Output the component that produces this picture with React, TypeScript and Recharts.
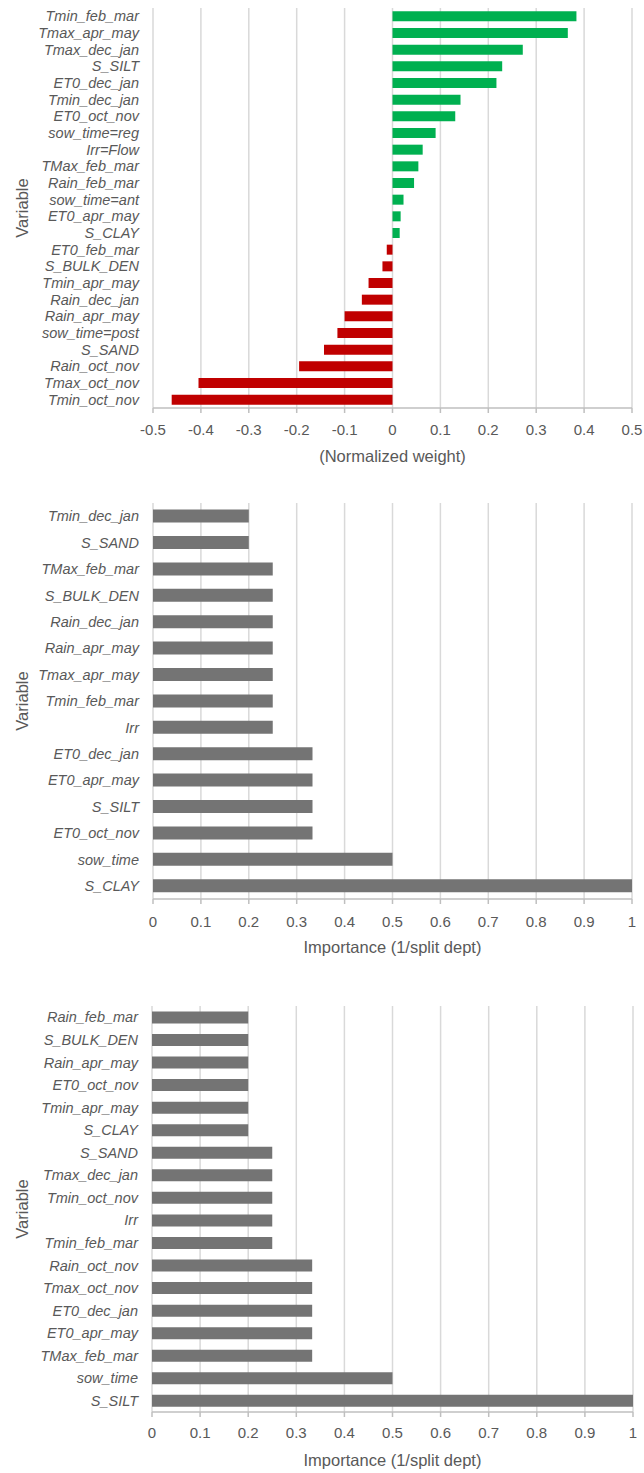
import { Bar, BarChart, CartesianGrid, Cell, Label, XAxis, YAxis } from "recharts"

// Panel 1: normalized weights of the linear model
const weightVars = [
  "Tmin_feb_mar", "Tmax_apr_may", "Tmax_dec_jan", "S_SILT", "ET0_dec_jan", "Tmin_dec_jan",
  "ET0_oct_nov", "sow_time=reg", "Irr=Flow", "TMax_feb_mar", "Rain_feb_mar", "sow_time=ant",
  "ET0_apr_may", "S_CLAY", "ET0_feb_mar", "S_BULK_DEN", "Tmin_apr_may", "Rain_dec_jan",
  "Rain_apr_may", "sow_time=post", "S_SAND", "Rain_oct_nov", "Tmax_oct_nov", "Tmin_oct_nov",
]
const weightValues = [
  0.384, 0.366, 0.272, 0.229, 0.217, 0.142,
  0.131, 0.09, 0.063, 0.054, 0.045, 0.023,
  0.017, 0.015, -0.012, -0.021, -0.05, -0.064,
  -0.1, -0.115, -0.143, -0.195, -0.405, -0.461,
]
const weightTicks = [-0.5, -0.4, -0.3, -0.2, -0.1, 0, 0.1, 0.2, 0.3, 0.4, 0.5]

// Panel 2: importance from the first tree
const depthVarsA = [
  "Tmin_dec_jan", "S_SAND", "TMax_feb_mar", "S_BULK_DEN", "Rain_dec_jan", "Rain_apr_may",
  "Tmax_apr_may", "Tmin_feb_mar", "Irr", "ET0_dec_jan", "ET0_apr_may", "S_SILT",
  "ET0_oct_nov", "sow_time", "S_CLAY",
]
const depthValuesA = [
  0.2, 0.2, 0.25, 0.25, 0.25, 0.25,
  0.25, 0.25, 0.25, 0.333, 0.333, 0.333,
  0.333, 0.5, 1,
]

// Panel 3: importance from the second tree
const depthVarsB = [
  "Rain_feb_mar", "S_BULK_DEN", "Rain_apr_may", "ET0_oct_nov", "Tmin_apr_may", "S_CLAY",
  "S_SAND", "Tmax_dec_jan", "Tmin_oct_nov", "Irr", "Tmin_feb_mar", "Rain_oct_nov",
  "Tmax_oct_nov", "ET0_dec_jan", "ET0_apr_may", "TMax_feb_mar", "sow_time", "S_SILT",
]
const depthValuesB = [
  0.2, 0.2, 0.2, 0.2, 0.2, 0.2,
  0.25, 0.25, 0.25, 0.25, 0.25, 0.333,
  0.333, 0.333, 0.333, 0.333, 0.5, 1,
]

const importanceTicks = [0, 0.1, 0.2, 0.3, 0.4, 0.5, 0.6, 0.7, 0.8, 0.9, 1]

const FONT = "'Liberation Sans', Arial, sans-serif"
const TEXT = "#595959"
const GRID = "#D9D9D9"
const AXIS = "#BFBFBF"

interface PanelProps {
  top: number
  height: number
  marginTop: number
  plotLeft: number
  plotRight: number
  plotHeight: number
  names: string[]
  values: number[]
  domain: [number, number]
  ticks: number[]
  title: string
  gap: string
  tickGap: number
  colorFor: (v: number) => string
}

function Panel(p: PanelProps) {
  const rows = p.names.map((name, i) => ({ name, value: p.values[i] }))
  const axisHeight = 55
  const marginBottom = p.height - p.marginTop - p.plotHeight - axisHeight
  return (
    <div style={{ position: "absolute", left: 0, top: p.top }}>
      <BarChart
        width={644}
        height={p.height}
        data={rows}
        layout="vertical"
        barCategoryGap={p.gap}
        margin={{ top: p.marginTop, right: 644 - p.plotRight, left: 8, bottom: marginBottom }}
      >
        <CartesianGrid horizontal={false} stroke={GRID} strokeWidth={1.5} />
        <XAxis
          type="number"
          domain={p.domain}
          ticks={p.ticks}
          interval={0}
          height={axisHeight}
          tickFormatter={(v: number) => String(v)}
          axisLine={{ stroke: AXIS, strokeWidth: 1.5 }}
          tickLine={{ stroke: AXIS, strokeWidth: 1.5 }}
          tickSize={5}
          tickMargin={p.tickGap}
          tick={{ fill: TEXT, fontSize: 15, fontFamily: FONT }}
        >
          <Label
            content={(lp: any) => {
              const vb = lp.viewBox
              return (
                <text
                  x={vb.x + vb.width / 2}
                  y={vb.y + 48}
                  textAnchor="middle"
                  dominantBaseline="central"
                  fill={TEXT}
                  fontSize={16.5}
                  fontFamily={FONT}
                >
                  {p.title}
                </text>
              )
            }}
          />
        </XAxis>
        <YAxis
          type="category"
          dataKey="name"
          width={p.plotLeft - 8}
          interval={0}
          axisLine={false}
          tickLine={false}
          tickSize={0}
          tickMargin={14}
          tick={{ fill: TEXT, fontSize: 14.5, fontStyle: "italic", fontFamily: FONT }}
        >
          <Label
            content={(lp: any) => {
              const vb = lp.viewBox
              const cx = vb.x + 14
              const cy = vb.y + vb.height / 2
              return (
                <text
                  x={cx}
                  y={cy}
                  transform={`rotate(-90 ${cx} ${cy})`}
                  textAnchor="middle"
                  dominantBaseline="central"
                  fill={TEXT}
                  fontSize={16.5}
                  fontFamily={FONT}
                >
                  Variable
                </text>
              )
            }}
          />
        </YAxis>
        <Bar dataKey="value" isAnimationActive={false}>
          {rows.map((r) => (
            <Cell key={r.name} fill={p.colorFor(r.value)} />
          ))}
        </Bar>
      </BarChart>
    </div>
  )
}

export default function App() {
  return (
    <div style={{ position: "absolute", left: 0, top: 0, width: 644, height: 1473, background: "#fff" }}>
      <Panel
        top={0}
        height={470}
        marginTop={8}
        plotLeft={153}
        plotRight={632}
        plotHeight={400}
        names={weightVars}
        values={weightValues}
        domain={[-0.5, 0.5]}
        ticks={weightTicks}
        title="(Normalized weight)"
        gap="20%"
        tickGap={11}
        colorFor={(v) => (v >= 0 ? "#00B050" : "#C00000")}
      />
      <Panel
        top={490}
        height={470}
        marginTop={13}
        plotLeft={153}
        plotRight={632}
        plotHeight={396}
        names={depthVarsA}
        values={depthValuesA}
        domain={[0, 1]}
        ticks={importanceTicks}
        title="Importance (1/split dept)"
        gap="25%"
        tickGap={12}
        colorFor={() => "#747474"}
      />
      <Panel
        top={1000}
        height={473}
        marginTop={6}
        plotLeft={152}
        plotRight={633}
        plotHeight={406}
        names={depthVarsB}
        values={depthValuesB}
        domain={[0, 1]}
        ticks={importanceTicks}
        title="Importance (1/split dept)"
        gap="24%"
        tickGap={10}
        colorFor={() => "#747474"}
      />
    </div>
  )
}
